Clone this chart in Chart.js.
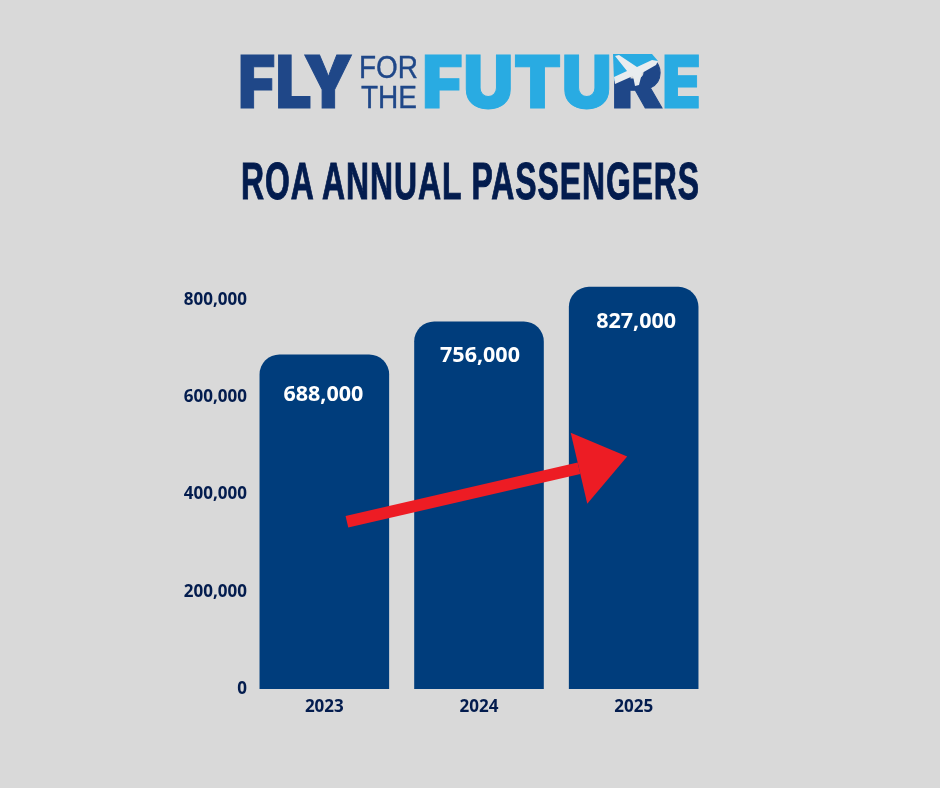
<!DOCTYPE html>
<html>
<head>
<meta charset="utf-8">
<title>ROA Annual Passengers</title>
<script src="https://cdn.jsdelivr.net/npm/chart.js@4"></script>
<style>
  html, body { margin: 0; padding: 0; background: #d9d9d9; }
  #page { position: relative; width: 940px; height: 788px; overflow: hidden; }
  #chart { position: absolute; left: 0; top: 0; }
  .fit { position: absolute; white-space: nowrap; transform-origin: 0 0; line-height: 1; }
  .logo { font-family: Inter, "Liberation Sans", sans-serif; font-weight: 900; -webkit-text-stroke: 1px currentColor; }
  .small { font-family: "Liberation Sans", sans-serif; font-weight: 400; -webkit-text-stroke: 0.4px currentColor; }
  #title { font-family: "Liberation Sans Narrow", "Liberation Sans", sans-serif; font-weight: 700; color: #031c4e; letter-spacing: 1.5px; -webkit-text-stroke: 1px currentColor; }
  #plane { position: absolute; left: 600px; top: 45px; }
</style>
</head>
<body>
<div id="page">
  <canvas id="chart" width="940" height="788"></canvas>
  <span class="fit logo" data-x="238" data-w="115" data-cap="55" data-size="73" style="color:#1f4788">FLY</span>
  <span class="fit small" data-x="359" data-w="59" data-cap="55" data-size="32" style="color:#1f4788">FOR</span>
  <span class="fit small" data-x="361" data-w="56" data-cap="85" data-size="32" style="color:#1f4788">THE</span>
  <span class="fit logo" data-x="422" data-w="190" data-cap="55" data-size="73" style="color:#29abe2">FUTU</span>
  <span class="fit logo" data-x="611" data-w="52" data-cap="55" data-size="73" style="color:#1f4788">R</span>
  <span class="fit logo" data-x="662" data-w="39" data-cap="55" data-size="73" style="color:#29abe2">E</span>
  <svg id="plane" width="105" height="70" viewBox="0 0 105 70">
    <polygon points="13,9 52,9 58,16 14,36" fill="#29abe2"/>
    <polygon points="14,32 27,26 15,11 19,10 37,22 52,15 58,16 56,20 42,28 39,40 35,41 33,31 15,39" fill="#e8ecef"/>
  </svg>
  <span class="fit" id="title" data-x="241" data-w="459" data-cap="163" data-size="51">ROA ANNUAL PASSENGERS</span>
</div>
<script>
// values
const years = ['2023', '2024', '2025'];
const passengers = [688000, 756000, 827000];
const yTicks = [0, 200000, 400000, 600000, 800000];
const arrowTail = [0.146, 344000];
const arrowTip = [1.958, 478000];
const arrowHeadA = [1.593, 527000];
const arrowHeadB = [1.70, 381000];

const navy = '#031c4e';
// the value labels are not quite centred in the original
const labelNudge = [[-1, 40], [1, 34], [2.5, 35]];

// squeeze each text to the width it has in the picture
document.querySelectorAll('.fit').forEach((el) => {
	const size = +el.dataset.size;
	el.style.fontSize = size + 'px';
	el.style.left = el.dataset.x + 'px';
	// cap top sits roughly 0.135em under the line box top
	el.style.top = (+el.dataset.cap - size * 0.135) + 'px';
	const w = el.getBoundingClientRect().width;
	el.style.transform = 'scaleX(' + (+el.dataset.w / w) + ')';
});

const barLabels = {
	id: 'barLabels',
	afterDatasetsDraw(chart) {
		const ctx = chart.ctx;
		const bars = chart.getDatasetMeta(0).data;
		ctx.save();
		ctx.fillStyle = '#ffffff';
		ctx.font = '700 21.5px "Open Sans"';
		ctx.textAlign = 'center';
		ctx.textBaseline = 'middle';
		bars.forEach((bar, i) => {
			ctx.fillText(passengers[i].toLocaleString('en-US'), bar.x + labelNudge[i][0], bar.y + labelNudge[i][1]);
		});
		ctx.restore();
	}
};

const trendArrow = {
	id: 'trendArrow',
	afterDraw(chart) {
		const x = chart.scales.x, y = chart.scales.y, ctx = chart.ctx;
		const pt = (p) => [x.getPixelForValue(p[0]), y.getPixelForValue(p[1])];
		const tail = pt(arrowTail), tip = pt(arrowTip), a = pt(arrowHeadA), b = pt(arrowHeadB);
		ctx.save();
		ctx.strokeStyle = '#ed1c24';
		ctx.fillStyle = '#ed1c24';
		ctx.lineWidth = 12;
		ctx.beginPath();
		ctx.moveTo(tail[0], tail[1]);
		ctx.lineTo((a[0] + b[0]) / 2, (a[1] + b[1]) / 2);
		ctx.stroke();
		ctx.beginPath();
		ctx.moveTo(tip[0], tip[1]);
		ctx.lineTo(a[0], a[1]);
		ctx.lineTo(b[0], b[1]);
		ctx.closePath();
		ctx.fill();
		ctx.restore();
	}
};

new Chart(document.getElementById('chart'), {
	type: 'bar',
	data: {
		labels: years,
		datasets: [{
			data: passengers,
			backgroundColor: '#003d7c',
			borderRadius: { topLeft: 20, topRight: 20 },
			borderSkipped: 'bottom',
			categoryPercentage: 1,
			barPercentage: 0.838,
			clip: false
		}]
	},
	options: {
		responsive: false,
		animation: false,
		events: [],
		layout: { padding: { left: 177, right: 229, top: 300, bottom: 71 } },
		plugins: { legend: { display: false }, tooltip: { enabled: false }, title: { display: false } },
		scales: {
			x: {
				afterFit(axis) { axis.height = 28; },
				grid: { display: false, drawTicks: false },
				border: { display: false },
				ticks: { color: navy, font: { family: 'Open Sans', weight: '700', size: 17 }, padding: 8 }
			},
			y: {
				position: 'left',
				min: 0,
				max: 800000,
				afterBuildTicks(axis) { axis.ticks = yTicks.map((v) => ({ value: v })); },
				afterFit(axis) { axis.width = 70; },
				grid: { display: false, drawTicks: false },
				border: { display: false },
				ticks: {
					color: navy,
					font: { family: 'Open Sans', weight: '700', size: 17 },
					padding: 0,
					callback: (v) => v.toLocaleString('en-US')
				}
			}
		}
	},
	plugins: [barLabels, trendArrow]
});
</script>
</body>
</html>
